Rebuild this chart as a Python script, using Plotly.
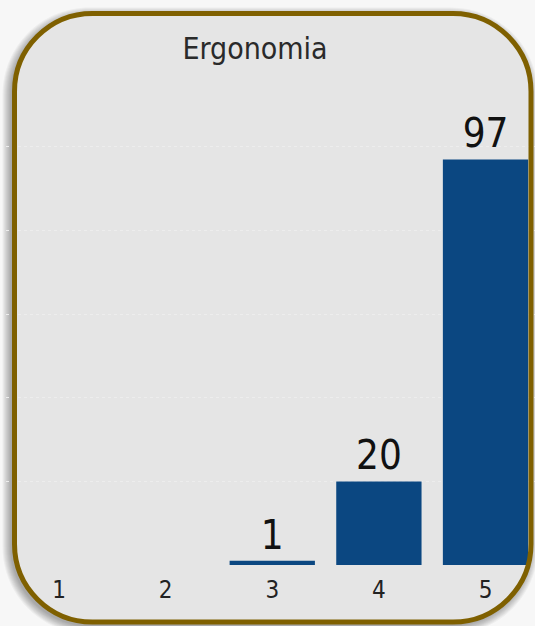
import plotly.graph_objects as go

categories = [1, 2, 3, 4, 5]
values = [0, 0, 1, 20, 97]
tick_labels = ["1", "2", "3", "4", "5"]
title_text = "Ergonomia"

W, H = 535, 626
ML, MR, MT, MB = 6, 0, 80, 61
PW = W - ML - MR
PH = H - MT - MB
FONT = "Liberation Sans Narrow, DejaVu Sans Condensed, Arial Narrow, sans-serif"


def px(x):
    return (x - ML) / PW


def py(y):
    return (H - MB - y) / PH


def rrect(x0, y0, x1, y1, r):
    k = 0.5523 * r
    s = f"M{px(x0 + r)},{py(y0)} L{px(x1 - r)},{py(y0)} "
    s += f"C{px(x1 - r + k)},{py(y0)} {px(x1)},{py(y0 + r - k)} {px(x1)},{py(y0 + r)} "
    s += f"L{px(x1)},{py(y1 - r)} "
    s += f"C{px(x1)},{py(y1 - r + k)} {px(x1 - r + k)},{py(y1)} {px(x1 - r)},{py(y1)} "
    s += f"L{px(x0 + r)},{py(y1)} "
    s += f"C{px(x0 + r - k)},{py(y1)} {px(x0)},{py(y1 - r + k)} {px(x0)},{py(y1 - r)} "
    s += f"L{px(x0)},{py(y0 + r)} "
    s += f"C{px(x0)},{py(y0 + r - k)} {px(x0 + r - k)},{py(y0)} {px(x0 + r)},{py(y0)} Z"
    return s


shapes = []
for e in range(9, 0, -1):
    shapes.append(dict(type="path", xref="paper", yref="paper", layer="below",
                       path=rrect(14.5 - 3 - e, 13.5 + 3 - e, 531 - 2 + e, 622 + 3 + e, 78 + e),
                       fillcolor="rgba(0,0,0,0.04)", line=dict(width=0)))
shapes.append(dict(type="path", xref="paper", yref="paper", layer="below",
                   path=rrect(14.5, 13.5, 531, 622, 78),
                   fillcolor="#e5e5e5", line=dict(width=0)))
shapes.append(dict(type="path", xref="paper", yref="paper", layer="above",
                   path=rrect(14.5, 13.5, 531, 622, 78),
                   fillcolor="rgba(0,0,0,0)", line=dict(color="#7f6000", width=5)))

fig = go.Figure(go.Bar(
    x=categories, y=values, width=0.8,
    marker=dict(color="#0b4781", line=dict(width=0)),
    text=[str(v) if v > 0 else "" for v in values],
    textposition="outside", cliponaxis=False,
    textfont=dict(family=FONT, size=40, color="#111111"),
))

fig.update_layout(
    width=W, height=H,
    margin=dict(l=ML, r=MR, t=MT, b=MB),
    paper_bgcolor="#f7f7f7",
    plot_bgcolor="rgba(0,0,0,0)",
    showlegend=False,
    shapes=shapes,
    title=dict(text=title_text, x=255 / W, xanchor="center", xref="container",
               y=1 - 48 / H, yanchor="middle", yref="container",
               font=dict(family=FONT, size=30, color="#2a2a2a")),
    xaxis=dict(range=[0.503, 5.464], tickvals=categories, ticktext=tick_labels,
               showgrid=False, zeroline=False, showline=False, ticks="",
               ticklabelstandoff=8,
               tickfont=dict(family=FONT, size=24, color="#222222")),
    yaxis=dict(range=[0, 116], dtick=20, showticklabels=False, zeroline=False,
               showgrid=True, gridcolor="#ededed", gridwidth=1, griddash="dot"),
)

fig.write_html(
    "out.html",
    config={"displayModeBar": False},
    post_script="document.body.style.margin='0';",
)
